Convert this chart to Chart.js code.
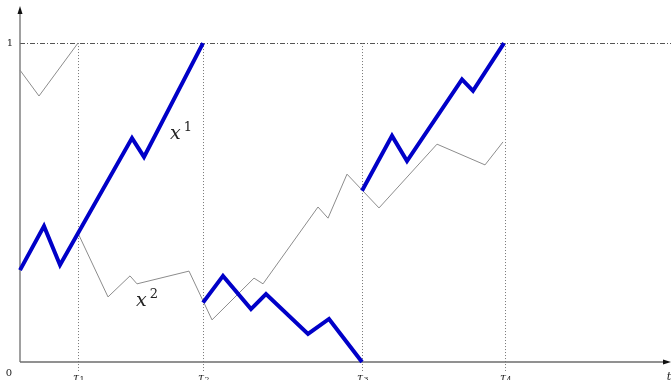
<!DOCTYPE html>
<html>
<head>
<meta charset="utf-8">
<script src="https://cdn.jsdelivr.net/npm/chart.js@4"></script>
<style>
  html, body { margin: 0; padding: 0; background: #fff; }
  #wrap { width: 671px; height: 380px; position: relative; }
</style>
</head>
<body>
<div id="wrap"><canvas id="chart"></canvas></div>
<script>
// --- Data (time along the t axis, value between 0 and 1) ---
const T_MAX = 651;
const Y_MAX = 1.135;

const TAU_TIMES = [58, 183, 342, 485];
const TAU_LABELS = ['τ1', 'τ2', 'τ3', 'τ4'];

// thick blue pieces (the leading path)
const BLUE_1_T = [0, 24, 40, 112, 124, 183];
const BLUE_1_Y = [0.288, 0.426, 0.304, 0.702, 0.643, 1.0];
const BLUE_2_T = [183, 203, 231, 246, 288, 309, 342];
const BLUE_2_Y = [0.186, 0.270, 0.166, 0.213, 0.088, 0.135, 0.0];
const BLUE_3_T = [342, 372, 387, 442, 453, 484];
const BLUE_3_Y = [0.537, 0.709, 0.630, 0.886, 0.850, 1.0];

// thin gray pieces
const GRAY_1_T = [0, 19, 58];
const GRAY_1_Y = [0.915, 0.834, 1.0];
const GRAY_2_T = [58, 88, 110, 117, 169, 192, 234, 243, 298, 308, 327, 359, 417, 465, 483];
const GRAY_2_Y = [0.404, 0.204, 0.270, 0.245, 0.285, 0.132, 0.263, 0.245, 0.486, 0.451, 0.589, 0.483, 0.683, 0.618, 0.690];

const BLUE = '#0000c8';
const GRAY = '#8c8c8c';
const AXIS = '#6e6e6e';

function toPoints(ts, ys) {
    return ts.map((t, i) => ({ x: t, y: ys[i] }));
}

function blueSet(ts, ys) {
    return { data: toPoints(ts, ys), borderColor: BLUE, borderWidth: 4, pointRadius: 0,
             borderJoinStyle: 'miter', borderCapStyle: 'butt', tension: 0, order: 1 };
}
function graySet(ts, ys) {
    return { data: toPoints(ts, ys), borderColor: GRAY, borderWidth: 1, pointRadius: 0,
             tension: 0, order: 2 };
}

// --- Axes, guides and labels ---
const guides = {
    id: 'guides',
    beforeDatasetsDraw(chart) {
        const { ctx, scales: { x, y } } = chart;
        const x0 = x.getPixelForValue(0), y0 = y.getPixelForValue(0), y1 = y.getPixelForValue(1);
        ctx.save();
        // level 1 dash-dot line
        ctx.strokeStyle = '#555';
        ctx.lineWidth = 1;
        ctx.setLineDash([5, 2, 1, 2]);
        ctx.beginPath();
        ctx.moveTo(x0, Math.round(y1) + 0.5);
        ctx.lineTo(chart.width, Math.round(y1) + 0.5);
        ctx.stroke();
        // stopping times
        ctx.strokeStyle = '#777';
        ctx.setLineDash([1, 2]);
        TAU_TIMES.forEach(t => {
            const px = Math.round(x.getPixelForValue(t)) + 0.5;
            ctx.beginPath();
            ctx.moveTo(px, y1);
            ctx.lineTo(px, y0 + 9);
            ctx.stroke();
        });
        // axes
        ctx.setLineDash([]);
        ctx.strokeStyle = AXIS;
        ctx.lineWidth = 1.3;
        ctx.beginPath();
        ctx.moveTo(x0, y0);
        ctx.lineTo(x0, 10);
        ctx.moveTo(x0, y0);
        ctx.lineTo(666, y0);
        ctx.stroke();
        ctx.fillStyle = '#111';
        ctx.beginPath();
        ctx.moveTo(x0, 6); ctx.lineTo(x0 - 2.5, 14); ctx.lineTo(x0 + 2.5, 14); ctx.closePath();
        ctx.fill();
        ctx.beginPath();
        ctx.moveTo(671, y0); ctx.lineTo(663, y0 - 2.5); ctx.lineTo(663, y0 + 2.5); ctx.closePath();
        ctx.fill();
        ctx.restore();
    },
    afterDraw(chart) {
        const { ctx, scales: { x, y } } = chart;
        const y0 = y.getPixelForValue(0);
        ctx.save();
        ctx.fillStyle = '#222';
        ctx.textAlign = 'center';
        ctx.textBaseline = 'middle';
        ctx.font = '10px "DejaVu Serif", serif';
        ctx.fillText('1', 10, y.getPixelForValue(1));
        ctx.fillText('0', 9, y0 + 11);
        ctx.textBaseline = 'top';
        ctx.font = 'italic 11px "DejaVu Serif", serif';
        TAU_TIMES.forEach((t, i) => {
            const px = x.getPixelForValue(t);
            ctx.font = 'italic 11px "DejaVu Serif", serif';
            ctx.fillText(TAU_LABELS[i][0], px - 2, y0 + 11);
            ctx.font = '8px "DejaVu Serif", serif';
            ctx.fillText(TAU_LABELS[i][1], px + 4, y0 + 14);
        });
        ctx.font = 'italic 11px "DejaVu Serif", serif';
        ctx.fillText('t', 669, y0 + 10);
        // path names
        ctx.textAlign = 'left';
        ctx.textBaseline = 'alphabetic';
        const lab = (txt, sup, t, v) => {
            const px = x.getPixelForValue(t), py = y.getPixelForValue(v);
            ctx.font = 'italic 19px "DejaVu Serif", serif';
            ctx.fillText(txt, px, py);
            const w = ctx.measureText(txt).width;
            ctx.font = '13px "DejaVu Serif", serif';
            ctx.fillText(sup, px + w + 3, py - 8);
        };
        lab('x', '1', 150, 0.70);
        lab('x', '2', 116, 0.175);
        ctx.restore();
    }
};

new Chart(document.getElementById('chart'), {
    type: 'line',
    data: {
        datasets: [
            graySet(GRAY_1_T, GRAY_1_Y),
            graySet(GRAY_2_T, GRAY_2_Y),
            blueSet(BLUE_1_T, BLUE_1_Y),
            blueSet(BLUE_2_T, BLUE_2_Y),
            blueSet(BLUE_3_T, BLUE_3_Y)
        ]
    },
    options: {
        responsive: true,
        maintainAspectRatio: false,
        animation: false,
        layout: { padding: { left: 20, right: 0, top: 0, bottom: 18 } },
        scales: {
            x: { type: 'linear', min: 0, max: T_MAX, display: false },
            y: { type: 'linear', min: 0, max: Y_MAX, display: false }
        },
        plugins: { legend: { display: false }, tooltip: { enabled: false } },
        elements: { line: { fill: false } },
        clip: false
    },
    plugins: [guides]
});
</script>
</body>
</html>
